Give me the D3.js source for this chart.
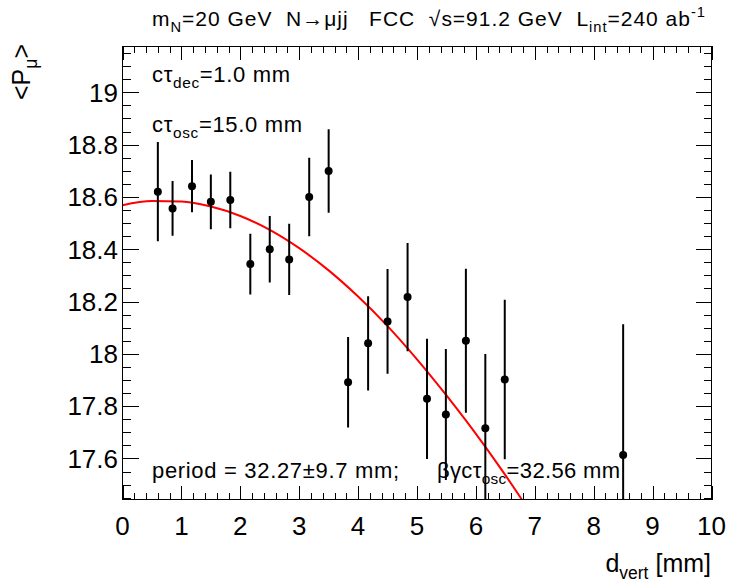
<!DOCTYPE html>
<html>
<head>
<meta charset="utf-8">
<script src="https://cdn.jsdelivr.net/npm/d3@7"></script>
<style>
  html, body { margin: 0; padding: 0; background: #fff; }
  svg { display: block; font-family: "Liberation Sans", Arial, Helvetica, sans-serif; }
  text { white-space: pre; }
</style>
</head>
<body>
<svg id="chart" width="736" height="586"></svg>
<script>
// ---- data ----
const dVert = [0.60, 0.85, 1.18, 1.50, 1.83, 2.17, 2.50, 2.83, 3.17, 3.50,
               3.83, 4.17, 4.50, 4.84, 5.17, 5.49, 5.83, 6.16, 6.49, 8.50];
const meanP = [18.620, 18.556, 18.641, 18.581, 18.588, 18.343, 18.400, 18.361, 18.600, 18.699,
               17.891, 18.040, 18.124, 18.217, 17.828, 17.768, 18.050, 17.715, 17.902, 17.613];
const errP  = [0.190, 0.105, 0.100, 0.105, 0.108, 0.116, 0.127, 0.136, 0.150, 0.160,
               0.173, 0.180, 0.200, 0.207, 0.230, 0.250, 0.275, 0.284, 0.305, 0.500];
// fitted curve
const fitX = [0, 0.5, 1, 1.5, 2, 2.5, 3, 3.5, 4, 4.5, 5, 5.5, 6, 6.5, 7];
const fitY = [18.568, 18.584, 18.582, 18.563, 18.527, 18.474, 18.404, 18.319, 18.219,
              18.106, 17.979, 17.841, 17.694, 17.536, 17.368];
const xTickLabels = [0, 1, 2, 3, 4, 5, 6, 7, 8, 9, 10];
const yTickLabels = [17.6, 17.8, 18, 18.2, 18.4, 18.6, 18.8, 19];
const xDomain = [0, 10];
const yDomain = [17.443, 19.177];

// ---- layout ----
const L = 122.5, R = 711.5, T = 46, B = 499.5;
const svg = d3.select("#chart");
const x = d3.scaleLinear().domain(xDomain).range([L, R]);
const y = d3.scaleLinear().domain(yDomain).range([B, T]);

svg.append("defs").append("clipPath").attr("id", "clip")
  .append("rect").attr("x", L).attr("y", T).attr("width", R - L).attr("height", B - T);

const xMinor = d3.range(0, 10.0001, 0.2).filter(v => Math.abs(v - Math.round(v)) > 1e-6);
const yMinor = d3.range(17.45, 19.176, 0.05).filter(v => !yTickLabels.some(t => Math.abs(t - v) < 1e-6));

function axes() {
  const g = svg.append("g").attr("shape-rendering", "crispEdges");
  g.append("g").attr("transform", `translate(0,${B})`)
    .call(d3.axisBottom(x).tickValues(xTickLabels).tickSize(-14).tickFormat(""));
  g.append("g").attr("transform", `translate(0,${B})`)
    .call(d3.axisBottom(x).tickValues(xMinor).tickSize(-7).tickFormat(""));
  g.append("g").attr("transform", `translate(0,${T})`)
    .call(d3.axisTop(x).tickValues(xTickLabels).tickSize(-14).tickFormat(""));
  g.append("g").attr("transform", `translate(0,${T})`)
    .call(d3.axisTop(x).tickValues(xMinor).tickSize(-7).tickFormat(""));
  g.append("g").attr("transform", `translate(${L},0)`)
    .call(d3.axisLeft(y).tickValues(yTickLabels).tickSize(-16).tickFormat(""));
  g.append("g").attr("transform", `translate(${L},0)`)
    .call(d3.axisLeft(y).tickValues(yMinor).tickSize(-8).tickFormat(""));
  g.append("g").attr("transform", `translate(${R},0)`)
    .call(d3.axisRight(y).tickValues(yTickLabels).tickSize(-16).tickFormat(""));
  g.append("g").attr("transform", `translate(${R},0)`)
    .call(d3.axisRight(y).tickValues(yMinor).tickSize(-8).tickFormat(""));
  g.selectAll(".domain").remove();
  g.selectAll("line").attr("stroke", "#000").attr("stroke-width", 1);
  g.append("rect").attr("x", L).attr("y", T).attr("width", R - L).attr("height", B - T)
    .attr("fill", "none").attr("stroke", "#000").attr("stroke-width", 1);
}

// tick labels
const fmt = d3.format("~g");
svg.append("g").selectAll("text").data(xTickLabels).join("text")
  .attr("x", d => x(d)).attr("y", 535)
  .attr("text-anchor", "middle").attr("font-size", 26).text(d => fmt(d));
svg.append("g").selectAll("text").data(yTickLabels).join("text")
  .attr("x", 118).attr("y", d => y(d)).attr("dy", "0.36em")
  .attr("text-anchor", "end").attr("font-size", 26).text(d => fmt(d));

// fit curve
const line = d3.line().x((d, i) => x(fitX[i])).y(d => y(d)).curve(d3.curveMonotoneX);
svg.append("path").datum(fitY).attr("clip-path", "url(#clip)")
  .attr("d", line).attr("fill", "none").attr("stroke", "#ff0000").attr("stroke-width", 2);

// error bars and markers
const pts = svg.append("g").attr("clip-path", "url(#clip)");
pts.selectAll("line").data(meanP).join("line")
  .attr("x1", (d, i) => x(dVert[i])).attr("x2", (d, i) => x(dVert[i]))
  .attr("y1", (d, i) => y(d - errP[i])).attr("y2", (d, i) => y(d + errP[i]))
  .attr("stroke", "#000").attr("stroke-width", 2);
pts.selectAll("circle").data(meanP).join("circle")
  .attr("cx", (d, i) => x(dVert[i])).attr("cy", d => y(d))
  .attr("r", 4).attr("fill", "#000");

axes();

// texts
function richText(parent, xPos, yPos, size, parts, anchor, len) {
  const t = parent.append("text").attr("x", xPos).attr("y", yPos)
    .attr("font-size", size).attr("text-anchor", anchor || "start");
  parts.forEach(p => {
    const sp = t.append("tspan").text(p.t);
    if (p.sub) sp.attr("font-size", size * 0.7).attr("dy", size * 0.28);
    if (p.sup) sp.attr("font-size", size * 0.7).attr("dy", -size * 0.42);
    if (p.back) sp.attr("dy", p.back);
  });
  if (len) t.attr("textLength", len).attr("lengthAdjust", "spacing");
  return t;
}

// title
richText(svg, 152, 26, 21, [
  {t: "m"}, {t: "N", sub: true}, {t: "=20 GeV  N\u2192\u03bcjj   FCC  \u221as=91.2 GeV  L", back: -21 * 0.28},
  {t: "int", sub: true}, {t: "=240 ab", back: -21 * 0.28}, {t: "-1", sup: true}
], "start", 553);

// inner labels
richText(svg, 152, 82, 22, [{t: "c\u03c4"}, {t: "dec", sub: true}, {t: "=1.0 mm", back: -22 * 0.28}], "start", 138);
richText(svg, 152, 132, 22, [{t: "c\u03c4"}, {t: "osc", sub: true}, {t: "=15.0 mm", back: -22 * 0.28}], "start", 150);
richText(svg, 152, 478, 22, [{t: "period = 32.27\u00b19.7 mm;"}], "start", 247);
richText(svg, 437, 478, 22, [{t: "\u03b2\u03b3c\u03c4"}, {t: "osc", sub: true},
  {t: "=32.56 mm", back: -22 * 0.28}], "start", 183);

// axis titles
richText(svg, 711, 572, 25, [{t: "d"}, {t: "vert", sub: true}, {t: " [mm]", back: -25 * 0.28}], "end");
const yl = svg.append("g").attr("transform", "translate(30,44) rotate(-90)");
richText(yl, 0, 0, 25, [{t: "<P"}, {t: "\u03bc", sub: true}, {t: ">", back: -25 * 0.28}], "end");
</script>
</body>
</html>
